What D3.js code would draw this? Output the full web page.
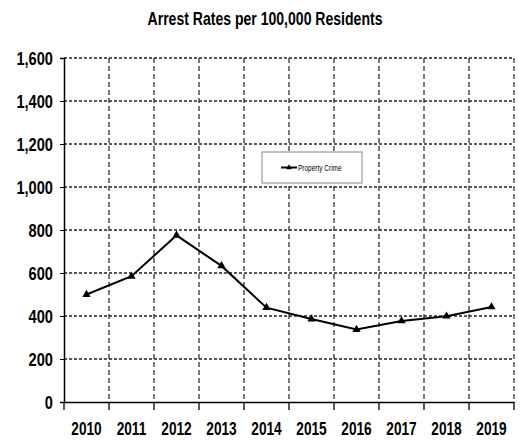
<!DOCTYPE html>
<html>
<head>
<meta charset="utf-8">
<script src="https://cdn.jsdelivr.net/npm/d3@7"></script>
<style>
  body { margin: 0; background: #fff; }
  text { font-family: "Liberation Sans Narrow", "Arial Narrow", "Liberation Sans", Arial, sans-serif; font-weight: bold; }
</style>
</head>
<body>
<svg id="chart" width="525" height="441"></svg>
<script>
// data
var years = ["2010", "2011", "2012", "2013", "2014", "2015", "2016", "2017", "2018", "2019"];
var propertyCrime = [500, 585, 775, 633, 439, 386, 337, 377, 399, 442];
var yTicks = [0, 200, 400, 600, 800, 1000, 1200, 1400, 1600];

var svg = d3.select("#chart");
var plotL = 64, plotR = 514, plotT = 58, plotB = 402;

var x = d3.scaleBand().domain(years).range([plotL, plotR]);
var y = d3.scaleLinear().domain([0, 1600]).range([plotB, plotT]);

// squeeze text to look like a narrow font
function narrow(sel, f) {
    sel.each(function () {
        var w = this.getComputedTextLength();
        d3.select(this).attr("textLength", w * f).attr("lengthAdjust", "spacingAndGlyphs");
    });
}

// title
svg.append("text")
    .attr("x", 265).attr("y", 25)
    .attr("text-anchor", "middle")
    .attr("font-size", 18)
    .text("Arrest Rates per 100,000 Residents")
    .call(narrow, 0.78);

// horizontal grid
svg.append("g").selectAll("line")
    .data(yTicks.filter(d => d > 0))
    .join("line")
    .attr("x1", plotL).attr("x2", plotR)
    .attr("y1", d => y(d)).attr("y2", d => y(d))
    .attr("stroke", "#222").attr("stroke-width", 1.3)
    .attr("stroke-dasharray", "3,2");

// vertical grid at category boundaries
var bounds = years.slice(1).map(d => x(d)).concat([plotR]);
svg.append("g").selectAll("line")
    .data(bounds)
    .join("line")
    .attr("x1", d => d).attr("x2", d => d)
    .attr("y1", plotT).attr("y2", plotB)
    .attr("stroke", "#333").attr("stroke-width", 1.3)
    .attr("stroke-dasharray", "5,3");

// y axis
var yAxis = svg.append("g")
    .attr("transform", "translate(" + plotL + ",0)")
    .call(d3.axisLeft(y).tickValues(yTicks).tickFormat(d3.format(",")).tickSize(4).tickPadding(7));
yAxis.select(".domain").attr("stroke", "#000").attr("stroke-width", 1.5);
yAxis.selectAll(".tick line").attr("stroke", "#000");
yAxis.selectAll("text").attr("font-size", 19).attr("fill", "#000")
    .style("font-family", "\"Liberation Sans Narrow\", \"Arial Narrow\", \"Liberation Sans\", sans-serif").style("font-weight", "bold")
    .call(narrow, 0.77);

// x axis
var xAxis = svg.append("g")
    .attr("transform", "translate(0," + plotB + ")")
    .call(d3.axisBottom(x).tickSize(0).tickPadding(20));
xAxis.select(".domain").attr("stroke", "#000").attr("stroke-width", 1.5);
xAxis.selectAll("text").attr("font-size", 19).attr("fill", "#000")
    .style("font-family", "\"Liberation Sans Narrow\", \"Arial Narrow\", \"Liberation Sans\", sans-serif").style("font-weight", "bold")
    .call(narrow, 0.72);
svg.append("g").selectAll("line")
    .data([plotL].concat(bounds))
    .join("line")
    .attr("x1", d => d).attr("x2", d => d)
    .attr("y1", plotB).attr("y2", plotB + 8)
    .attr("stroke", "#000").attr("stroke-width", 1.3);

// series line
var line = d3.line()
    .x((d, i) => x(years[i]) + x.bandwidth() / 2)
    .y(d => y(d));
svg.append("path")
    .datum(propertyCrime)
    .attr("d", line)
    .attr("fill", "none")
    .attr("stroke", "#000")
    .attr("stroke-width", 2);

var tri = d3.symbol().type(d3.symbolTriangle).size(30);
svg.append("g").selectAll("path")
    .data(propertyCrime)
    .join("path")
    .attr("transform", (d, i) => "translate(" + (x(years[i]) + x.bandwidth() / 2) + "," + y(d) + ")")
    .attr("d", tri)
    .attr("fill", "#000");

// legend
var lg = svg.append("g");
lg.append("rect")
    .attr("x", 262).attr("y", 152).attr("width", 100).attr("height", 31)
    .attr("fill", "#fff").attr("stroke", "#888").attr("stroke-width", 1);
lg.append("line")
    .attr("x1", 281).attr("x2", 297).attr("y1", 167.5).attr("y2", 167.5)
    .attr("stroke", "#000").attr("stroke-width", 2);
lg.append("path")
    .attr("transform", "translate(289,167.5)")
    .attr("d", d3.symbol().type(d3.symbolTriangle).size(14))
    .attr("fill", "#000");
lg.append("text")
    .attr("x", 298).attr("y", 171)
    .attr("font-size", 9)
    .style("font-weight", "normal")
    .text("Property Crime")
    .call(narrow, 0.72);
</script>
</body>
</html>
